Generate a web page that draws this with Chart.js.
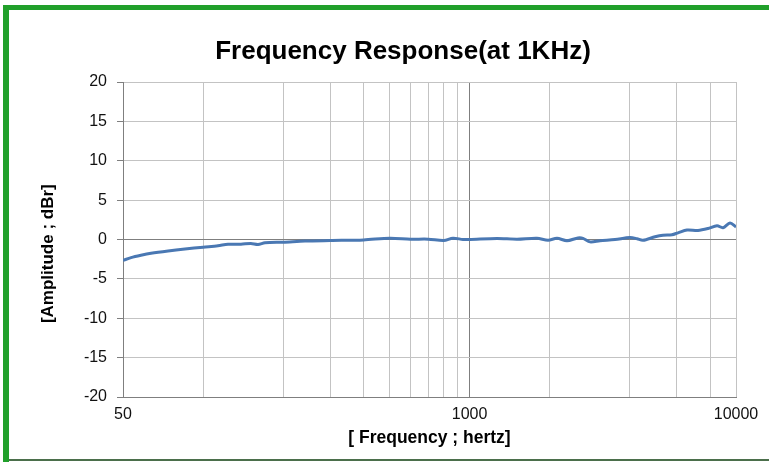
<!DOCTYPE html>
<html>
<head>
<meta charset="utf-8">
<script src="https://cdn.jsdelivr.net/npm/chart.js@4/dist/chart.umd.min.js"></script>
<style>
html,body{margin:0;padding:0;background:#fff;}
#wrap{position:relative;width:769px;height:462px;}
</style>
</head>
<body>
<div id="wrap"><canvas id="c" width="769" height="462"></canvas></div>
<script>
const chartTitle = "Frequency Response(at 1KHz)";
const xAxisTitle = "[ Frequency ; hertz]";
const yAxisTitle = "[Amplitude ; dBr]";

const frequencies = [50,53.6,58.4,63.7,73.8,85.4,100,113.6,123.9,138.6,151,160.6,170.6,200,241,300,400,502,600,700,800,866,945,1000,1267,1507,1790,1970,2128,2320,2552,2665,2832,3086,3514,4000,4250,4475,4967,5320,5750,6060,6548,7200,7850,8486,8937,9495,10000];
const amplitudes = [-2.65,-2.3,-2.0,-1.75,-1.45,-1.2,-0.97,-0.8,-0.6,-0.6,-0.5,-0.63,-0.42,-0.34,-0.2,-0.13,-0.05,0.17,0.04,0.04,-0.13,0.17,0.0,0.0,0.13,0.04,0.17,-0.1,0.15,-0.15,0.2,0.15,-0.3,-0.15,0,0.25,0.1,-0.1,0.35,0.55,0.6,0.85,1.2,1.15,1.4,1.75,1.5,2.1,1.6];

const xTickValues = [50,100,200,300,400,500,600,700,800,900,1000,2000,4000,6000,8000,10000];
const xTickLabels = [50,1000,10000];
const yMin = -20, yMax = 20, yStep = 5;

const FONT = "'Liberation Sans', Arial, sans-serif";

const frame = {
  id: 'frame',
  afterDraw(chart) {
    const ctx = chart.ctx;
    ctx.save();
    // chart title
    ctx.fillStyle = '#000';
    ctx.font = "bold 26px " + FONT;
    ctx.textAlign = 'center';
    ctx.textBaseline = 'alphabetic';
    ctx.fillText(chartTitle, 403, 59);
    // green frame
    ctx.fillStyle = '#21a02b';
    ctx.fillRect(3, 5, 766, 5);
    ctx.fillRect(3, 5, 6, 457);
    ctx.fillStyle = '#4b6f4b';
    ctx.fillRect(9, 459, 760, 2);
    ctx.restore();
  }
};

new Chart(document.getElementById('c'), {
  type: 'line',
  data: {
    datasets: [{
      data: frequencies.map((f, i) => ({x: f, y: amplitudes[i]})),
      borderColor: '#4a78b3',
      borderWidth: 3,
      pointRadius: 0,
      tension: 0.3,
      fill: false
    }]
  },
  plugins: [frame],
  options: {
    responsive: false,
    animation: false,
    devicePixelRatio: 1,
    layout: {padding: {top: 82, left: 0, right: 33, bottom: 0}},
    plugins: {
      legend: {display: false},
      tooltip: {enabled: false},
      title: {display: false}
    },
    scales: {
      x: {
        type: 'logarithmic',
        min: 50,
        max: 10000,
        afterBuildTicks: s => { s.ticks = xTickValues.map(v => ({value: v})); },
        afterFit: s => { s.height = 65; },
        ticks: {
          autoSkip: false,
          maxRotation: 0,
          padding: 8,
          color: '#111',
          font: {family: FONT, size: 16},
          callback: v => xTickLabels.includes(v) ? String(v) : ''
        },
        grid: {
          drawTicks: false,
          color: c => (c.tick && c.tick.value === 1000) ? '#7f7f7f' : '#c3c3c3',
          lineWidth: 1
        },
        border: {color: '#7f7f7f', width: 1},
        title: {
          display: true,
          text: xAxisTitle,
          color: '#000',
          font: {family: FONT, size: 17.5, weight: 'bold'},
          padding: {top: 0, bottom: 13}
        }
      },
      y: {
        min: yMin,
        max: yMax,
        afterFit: s => { s.width = 123; },
        ticks: {
          stepSize: yStep,
          padding: 10,
          color: '#111',
          font: {family: FONT, size: 16}
        },
        grid: {
          drawTicks: true,
          tickLength: 6,
          tickColor: '#7f7f7f',
          color: c => (c.tick && c.tick.value === 0) ? '#7f7f7f' : '#c3c3c3',
          lineWidth: 1
        },
        border: {color: '#7f7f7f', width: 1},
        title: {
          display: true,
          text: yAxisTitle + '      ',
          color: '#000',
          font: {family: FONT, size: 17, weight: 'bold'},
          padding: {top: 38, bottom: 0}
        }
      }
    }
  }
});
</script>
</body>
</html>
